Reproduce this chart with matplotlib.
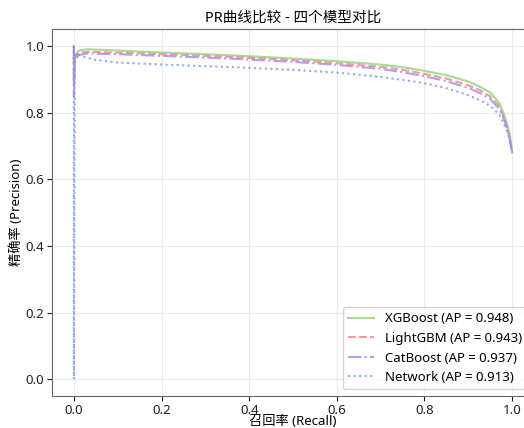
import matplotlib
matplotlib.use("Agg")
import matplotlib.pyplot as plt

plt.rcParams["font.family"] = ["Noto Sans", "Noto Sans CJK SC", "DejaVu Sans"]
plt.rcParams["axes.unicode_minus"] = False

# PR curve points per model (recall, precision)
xgb_recall = [0.0, 0.0, 0.002, 0.01, 0.03, 0.1, 0.2, 0.3, 0.4, 0.5, 0.6, 0.7, 0.75, 0.8, 0.85, 0.9, 0.93, 0.95, 0.97, 0.98, 0.99, 0.995, 1.0]
xgb_precision = [1.0, 0.90, 0.97, 0.985, 0.99, 0.986, 0.980, 0.975, 0.969, 0.962, 0.954, 0.944, 0.936, 0.925, 0.912, 0.893, 0.875, 0.86, 0.83, 0.80, 0.76, 0.73, 0.68]

lgb_recall = [0.0, 0.0, 0.002, 0.01, 0.03, 0.1, 0.2, 0.3, 0.4, 0.5, 0.6, 0.7, 0.75, 0.8, 0.85, 0.9, 0.93, 0.95, 0.97, 0.98, 0.99, 0.995, 1.0]
lgb_precision = [1.0, 0.88, 0.96, 0.978, 0.982, 0.980, 0.975, 0.970, 0.964, 0.957, 0.948, 0.937, 0.928, 0.916, 0.902, 0.882, 0.864, 0.848, 0.82, 0.79, 0.75, 0.72, 0.68]

cat_recall = [0.0, 0.0, 0.002, 0.01, 0.03, 0.1, 0.2, 0.3, 0.4, 0.5, 0.6, 0.7, 0.75, 0.8, 0.85, 0.9, 0.93, 0.95, 0.97, 0.98, 0.99, 0.995, 1.0]
cat_precision = [1.0, 0.85, 0.95, 0.972, 0.977, 0.975, 0.970, 0.965, 0.959, 0.952, 0.943, 0.931, 0.921, 0.909, 0.894, 0.874, 0.856, 0.84, 0.812, 0.785, 0.745, 0.715, 0.68]

net_recall = [0.0, 0.0, 0.002, 0.005, 0.01, 0.02, 0.05, 0.1, 0.2, 0.3, 0.4, 0.5, 0.6, 0.7, 0.75, 0.8, 0.85, 0.9, 0.93, 0.95, 0.97, 0.98, 0.99, 0.995, 1.0]
net_precision = [1.0, 0.0, 0.97, 0.978, 0.975, 0.968, 0.958, 0.950, 0.944, 0.939, 0.934, 0.928, 0.920, 0.907, 0.898, 0.888, 0.873, 0.852, 0.835, 0.82, 0.795, 0.77, 0.74, 0.715, 0.68]

models = ["XGBoost", "LightGBM", "CatBoost", "Network"]
ap_scores = [0.948, 0.943, 0.937, 0.913]

fig = plt.figure(figsize=(5.24, 4.28), dpi=100)
ax = fig.add_axes([0.0992, 0.0748, 0.920, 0.857])

curves = [(xgb_recall, xgb_precision), (lgb_recall, lgb_precision),
          (cat_recall, cat_precision), (net_recall, net_precision)]
colors = ["#95d57f", "#f08a86", "#a98cf2", "#7a9be2"]
styles = ["-", "--", "-.", ":"]

for (r, p), name, ap, c, ls in zip(curves, models, ap_scores, colors, styles):
    ax.plot(r, p, color=c, linestyle=ls, linewidth=1.5, alpha=0.85,
            label=f"{name} (AP = {ap:.3f})")

ax.set_xlim(-0.05, 1.05)
ax.set_ylim(-0.05, 1.05)
ax.set_xlabel("召回率 (Recall)", fontsize=9.5, labelpad=-1)
ax.set_ylabel("精确率 (Precision)", fontsize=9.5, labelpad=2)
ax.set_title("PR曲线比较 - 四个模型对比", fontsize=10.5, pad=5)
ax.tick_params(labelsize=9.5, colors="#222222", pad=2)
ax.grid(True, color="#dddddd", alpha=0.6, linewidth=0.8)
for s in ax.spines.values():
    s.set_color("#666666")
ax.legend(loc="lower right", fontsize=9.5)

fig.savefig("out.png", dpi=100)
